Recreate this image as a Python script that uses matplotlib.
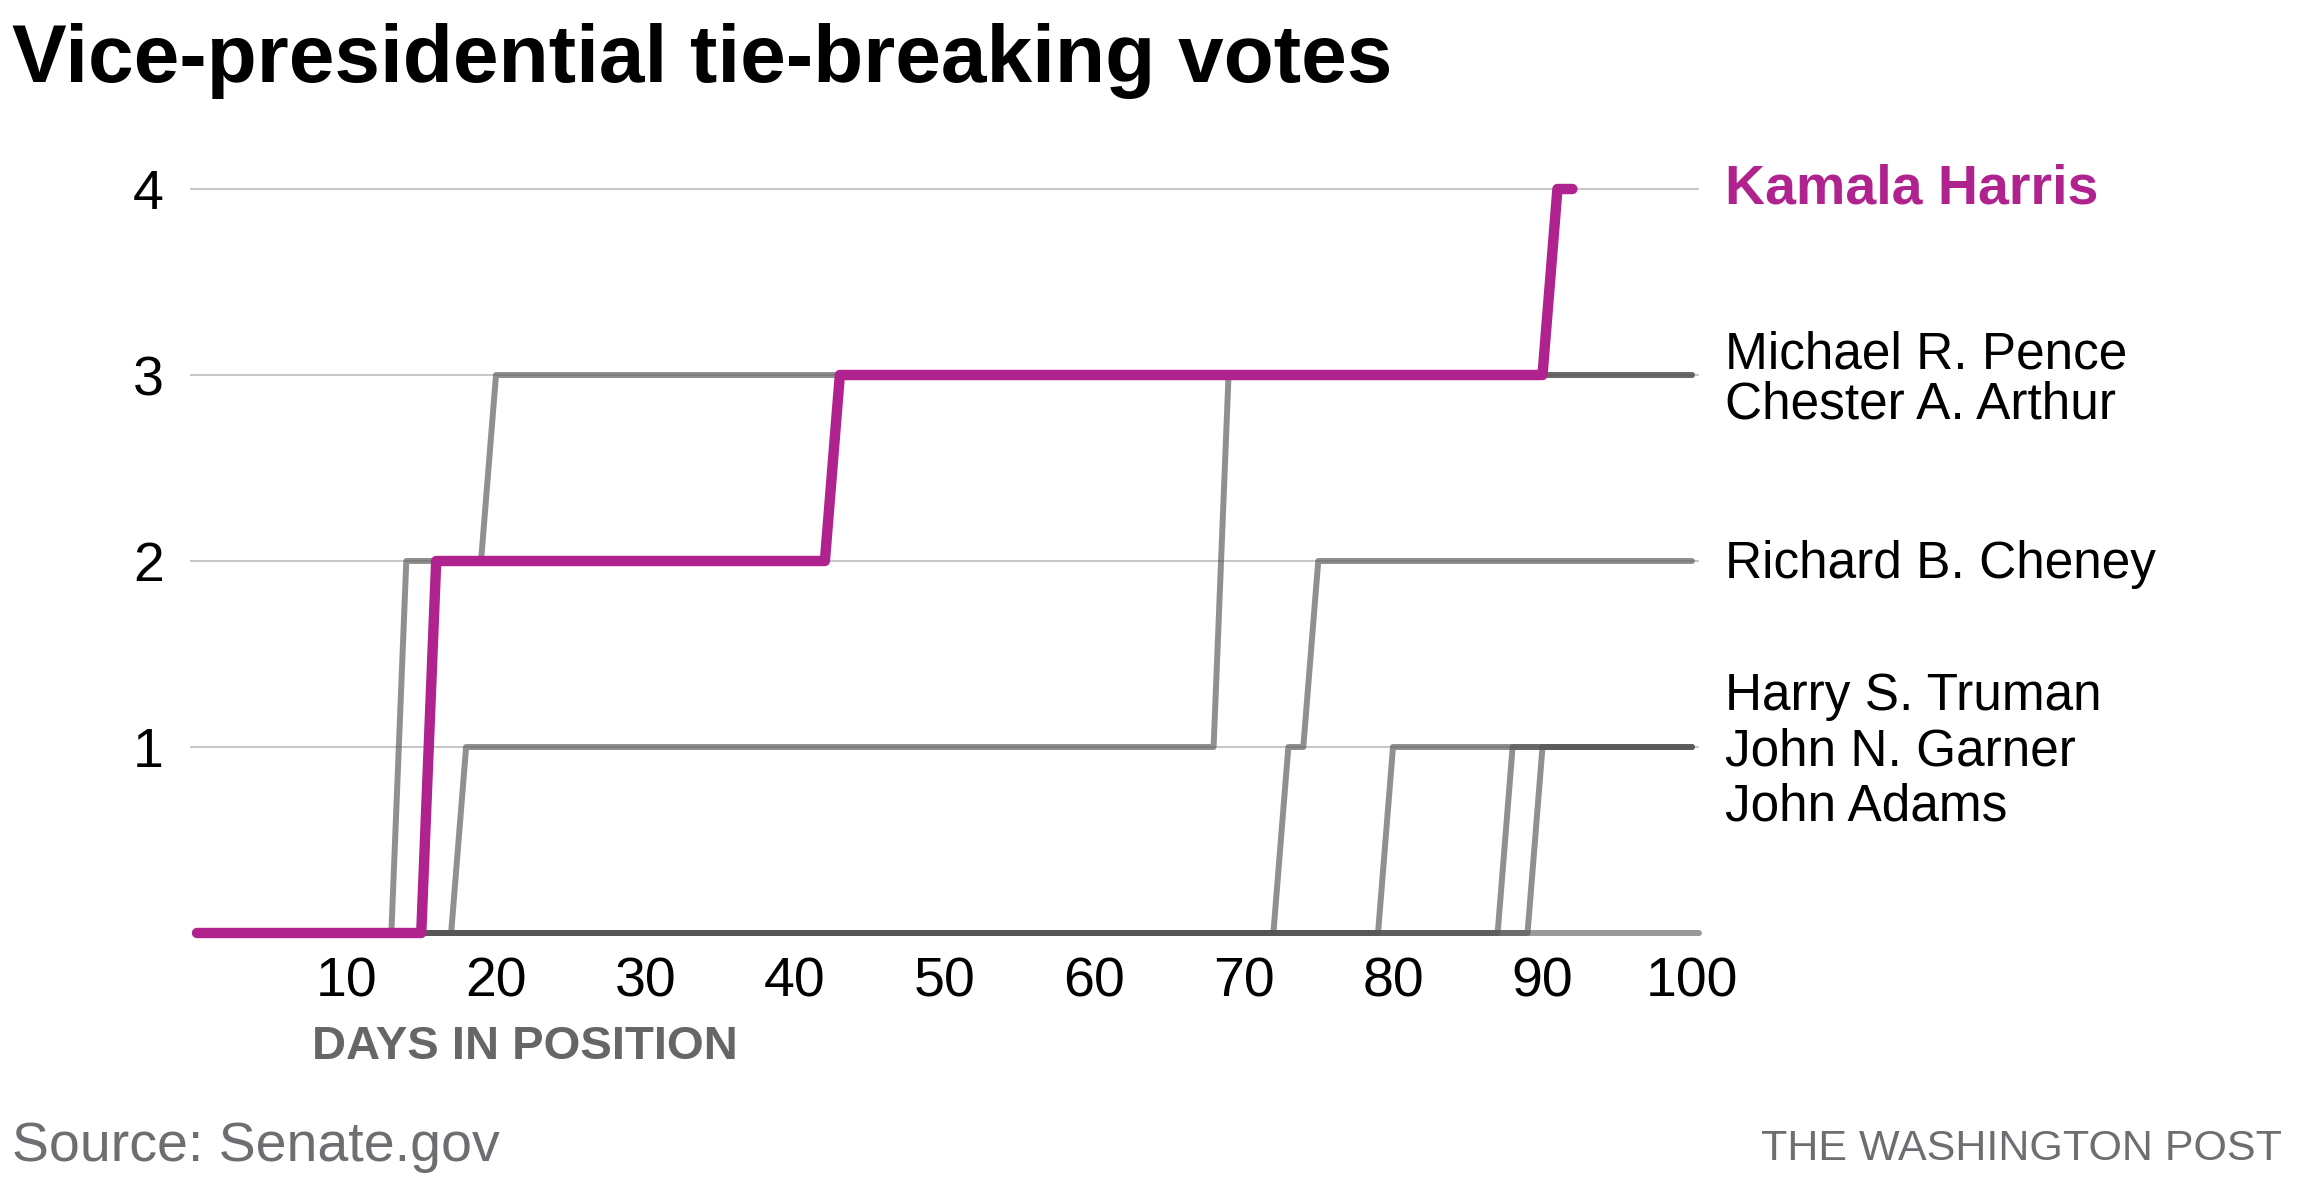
import matplotlib
matplotlib.use("Agg")
import matplotlib.pyplot as plt

plt.rcParams["font.family"] = ["Liberation Sans", "DejaVu Sans"]

# Cumulative tie-breaking votes by day in office
arthur_days = [0, 13, 14, 19, 20, 100]
arthur_votes = [0, 0, 2, 2, 3, 3]
pence_days = [0, 17, 18, 68, 69, 100]
pence_votes = [0, 0, 1, 1, 3, 3]
cheney_days = [0, 72, 73, 74, 75, 100]
cheney_votes = [0, 0, 1, 1, 2, 2]
truman_days = [0, 79, 80, 100]
truman_votes = [0, 0, 1, 1]
garner_days = [0, 87, 88, 100]
garner_votes = [0, 0, 1, 1]
adams_days = [0, 89, 90, 100]
adams_votes = [0, 0, 1, 1]
harris_days = [0, 15, 16, 42, 43, 90, 91, 92]
harris_votes = [0, 0, 2, 2, 3, 3, 4, 4]

x_ticks = [10, 20, 30, 40, 50, 60, 70, 80, 90, 100]
y_ticks = [1, 2, 3, 4]

# labels on the right: (text, y position)
right_labels = [
    ("Michael R. Pence", 3.11),
    ("Chester A. Arthur", 2.84),
    ("Richard B. Cheney", 1.98),
    ("Harry S. Truman", 1.27),
    ("John N. Garner", 0.975),
    ("John Adams", 0.68),
]

magenta = "#b0238e"
grey = "#555555"

fig = plt.figure(figsize=(23.01, 11.80), dpi=100)
ax = fig.add_axes([197 / 2301, 1 - 933 / 1180, 1495 / 2301, 744 / 1180])

# gridlines + baseline
ax.hlines(y_ticks, -0.5, 100.5, color="#c8c8c8", lw=1.5, zorder=1, clip_on=False)
ax.hlines(0, 0, 100.5, color="#999999", lw=4.3, zorder=1, clip_on=False,
          capstyle="round")

greys = [(arthur_days, arthur_votes), (pence_days, pence_votes),
         (cheney_days, cheney_votes), (truman_days, truman_votes),
         (garner_days, garner_votes), (adams_days, adams_votes)]
for d, v in greys:
    ax.plot(d, v, color=grey, alpha=0.65, lw=4.3, zorder=2, clip_on=False,
            solid_capstyle="round", solid_joinstyle="round")

ax.plot(harris_days, harris_votes, color=magenta, lw=7.5, zorder=3,
        clip_on=False, solid_capstyle="round", solid_joinstyle="round")

ax.set_xlim(0, 100)
ax.set_ylim(0, 4)
ax.set_xticks(x_ticks)
ax.set_yticks(y_ticks)
ax.tick_params(length=0, labelsize=40)
ax.tick_params(axis="x", pad=17)
ax.tick_params(axis="y", pad=24)
for s in ax.spines.values():
    s.set_visible(False)

ax.text(102.2, 4, "Kamala Harris", color=magenta, fontsize=40,
        fontweight="bold", va="center", ha="left", clip_on=False)
for name, y in right_labels:
    ax.text(102.2, y, name, color="black", fontsize=37, va="center",
            ha="left", clip_on=False)

fig.text(12 / 2301, 1 - 82 / 1180, "Vice-presidential tie-breaking votes",
         fontsize=59, fontweight="bold", ha="left", va="baseline")
fig.text(312 / 2301, 1 - 1059 / 1180, "DAYS IN POSITION", fontsize=34,
         fontweight="bold", color="#666666", ha="left", va="baseline")
fig.text(12 / 2301, 1 - 1161 / 1180, "Source: Senate.gov", fontsize=40,
         color="#6d6e71", ha="left", va="baseline")
fig.text(2282 / 2301, 1 - 1160 / 1180, "THE WASHINGTON POST", fontsize=31,
         color="#6d6e71", ha="right", va="baseline")

fig.savefig("out.png", dpi=100)
